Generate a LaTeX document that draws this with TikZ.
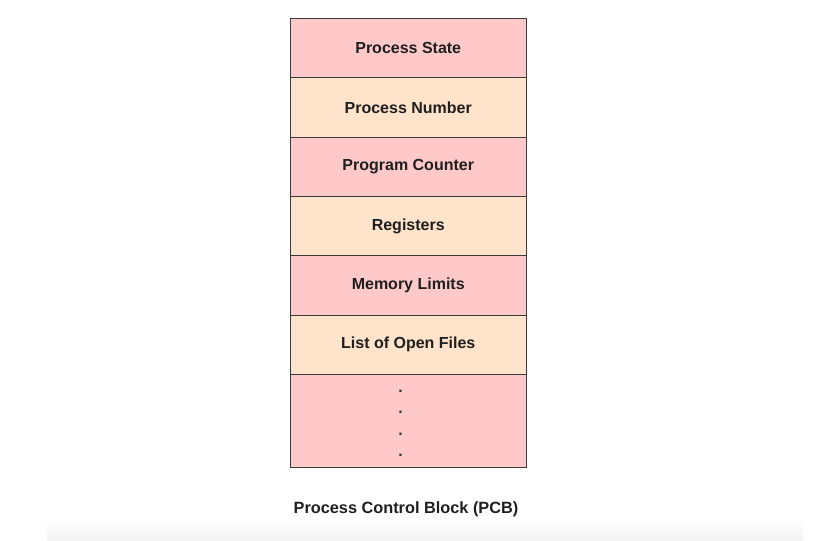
\documentclass[tikz,border=0pt]{standalone}
\usepackage{fontspec}
\setmainfont{Liberation Sans}
\definecolor{pinkfill}{HTML}{FFC9C9}
\definecolor{peachfill}{HTML}{FFE3CA}
\definecolor{edge}{HTML}{3A3A3A}
\begin{document}
\begin{tikzpicture}[x=1pt,y=-1pt,
  row/.style={draw=edge,line width=1pt,minimum width=236.5pt,inner sep=0pt,anchor=north west,
    font=\fontsize{16}{19}\selectfont\bfseries,text=black!88},
  dotmark/.style={inner sep=0pt,anchor=base,font=\fontsize{16}{19}\selectfont\bfseries,text=black!80}]
\useasboundingbox (0,0) rectangle (831,541);
\shade[top color=white,bottom color=black!5] (47,518) rectangle (803,541);
\node[row,fill=pinkfill,minimum height=59.3pt] (ps) at (289.5,18) {Process State};
\node[row,fill=peachfill,minimum height=59.3pt] (pn) at (289.5,77.3) {Process Number};
\node[row,fill=pinkfill,minimum height=59.3pt] (pc) at (289.5,136.6) {Program Counter};
\node[row,fill=peachfill,minimum height=59.3pt] (rg) at (289.5,195.9) {Registers};
\node[row,fill=pinkfill,minimum height=59.3pt] (ml) at (289.5,255.2) {Memory Limits};
\node[row,fill=peachfill,minimum height=59.3pt] (lf) at (289.5,314.5) {List of Open Files};
\node[row,fill=pinkfill,minimum height=93pt] (more) at (289.5,373.8) {};
\node[dotmark] (d1) at (400.5,392) {.};
\node[dotmark] (d2) at (400.5,413.3) {.};
\node[dotmark] (d3) at (400.5,435) {.};
\node[dotmark] (d4) at (400.5,456) {.};
\node[font=\fontsize{16.3}{19}\selectfont\bfseries,text=black!88,inner sep=0pt,anchor=base] (cap) at (406,513.3) {Process Control Block (PCB)};
\end{tikzpicture}
\end{document}
